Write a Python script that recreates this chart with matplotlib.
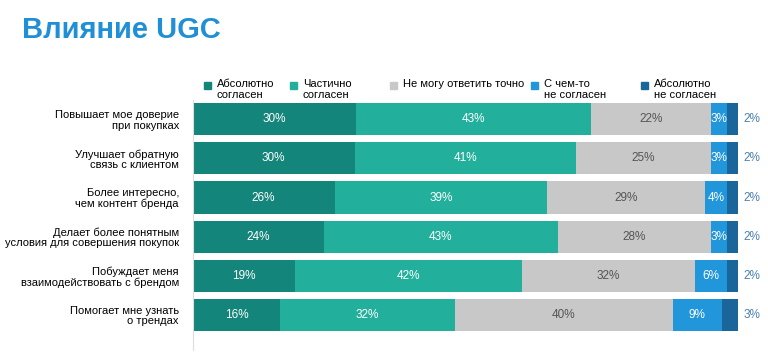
import numpy as np
import matplotlib
matplotlib.use("Agg")
import matplotlib.pyplot as plt
from matplotlib.patches import Rectangle

plt.rcParams['font.family'] = ['Liberation Sans', 'DejaVu Sans']

categories = [
    "Повышает мое доверие\nпри покупках",
    "Улучшает обратную\nсвязь с клиентом",
    "Более интересно,\nчем контент бренда",
    "Делает более понятным\nусловия для совершения покупок",
    "Побуждает меня\nвзаимодействовать с брендом",
    "Помогает мне узнать\nо трендах",
]
series_names = ["Абсолютно\nсогласен", "Частично\nсогласен", "Не могу ответить точно",
                "С чем-то\nне согласен", "Абсолютно\nне согласен"]
fully_agree = [30, 30, 26, 24, 19, 16]
partly_agree = [43, 41, 39, 43, 42, 32]
not_sure = [22, 25, 29, 28, 32, 40]
partly_disagree = [3, 3, 4, 3, 6, 9]
fully_disagree = [2, 2, 2, 2, 2, 3]

colors = ["#14857a", "#22b09c", "#c8c8c8", "#2196db", "#1a659a"]
label_colors = ["white", "white", "#555555", "white", None]

data = np.array([fully_agree, partly_agree, not_sure, partly_disagree, fully_disagree], dtype=float)
# bars in the original all end at the same point, so scale each row to 100
scaled = data / data.sum(axis=0) * 100

fig = plt.figure(figsize=(7.68, 3.53), dpi=100)
ax = fig.add_axes([0.251, 0.052, 0.710, 0.666])

y = np.arange(len(categories))
left = np.zeros(len(categories))
for i in range(len(series_names)):
    ax.barh(y, scaled[i], left=left, height=0.82, color=colors[i], edgecolor='none')
    for j in range(len(categories)):
        txt = f"{int(data[i, j])}%"
        if label_colors[i] is not None:
            ax.text(left[j] + scaled[i, j] / 2, y[j], txt, ha='center', va='center',
                    fontsize=8.5, color=label_colors[i])
        else:
            ax.annotate(txt, (left[j] + scaled[i, j], y[j]), xytext=(4, 0),
                        textcoords='offset points', ha='left', va='center',
                        fontsize=8.5, color="#4a7fb0")
    left += scaled[i]

ax.set_xlim(0, 100)
ax.set_ylim(len(categories) - 0.5, -0.5)
ax.set_yticks(y)
ax.set_yticklabels(categories, fontsize=8, linespacing=1.05)
ax.tick_params(axis='y', length=0, pad=10)
ax.set_xticks([])
for s in ['top', 'right', 'bottom']:
    ax.spines[s].set_visible(False)
ax.spines['left'].set_color("#dddddd")
ax.spines['left'].set_bounds(-0.5, 5.9)

fig.text(0.028, 0.915, "Влияние UGC", fontsize=21, fontweight='bold',
         color="#1f8fd6", va='center', ha='left')

leg_x = [0.2656, 0.3776, 0.5078, 0.6914, 0.8346]
for i, name in enumerate(series_names):
    fig.patches.append(Rectangle((leg_x[i], 0.748), 0.0091, 0.0198, color=colors[i],
                                 transform=fig.transFigure, figure=fig))
    fig.text(leg_x[i] + 0.0169, 0.777, name, fontsize=8.0, va='top', ha='left',
             linespacing=1.1)

fig.savefig("out.png", dpi=100)
